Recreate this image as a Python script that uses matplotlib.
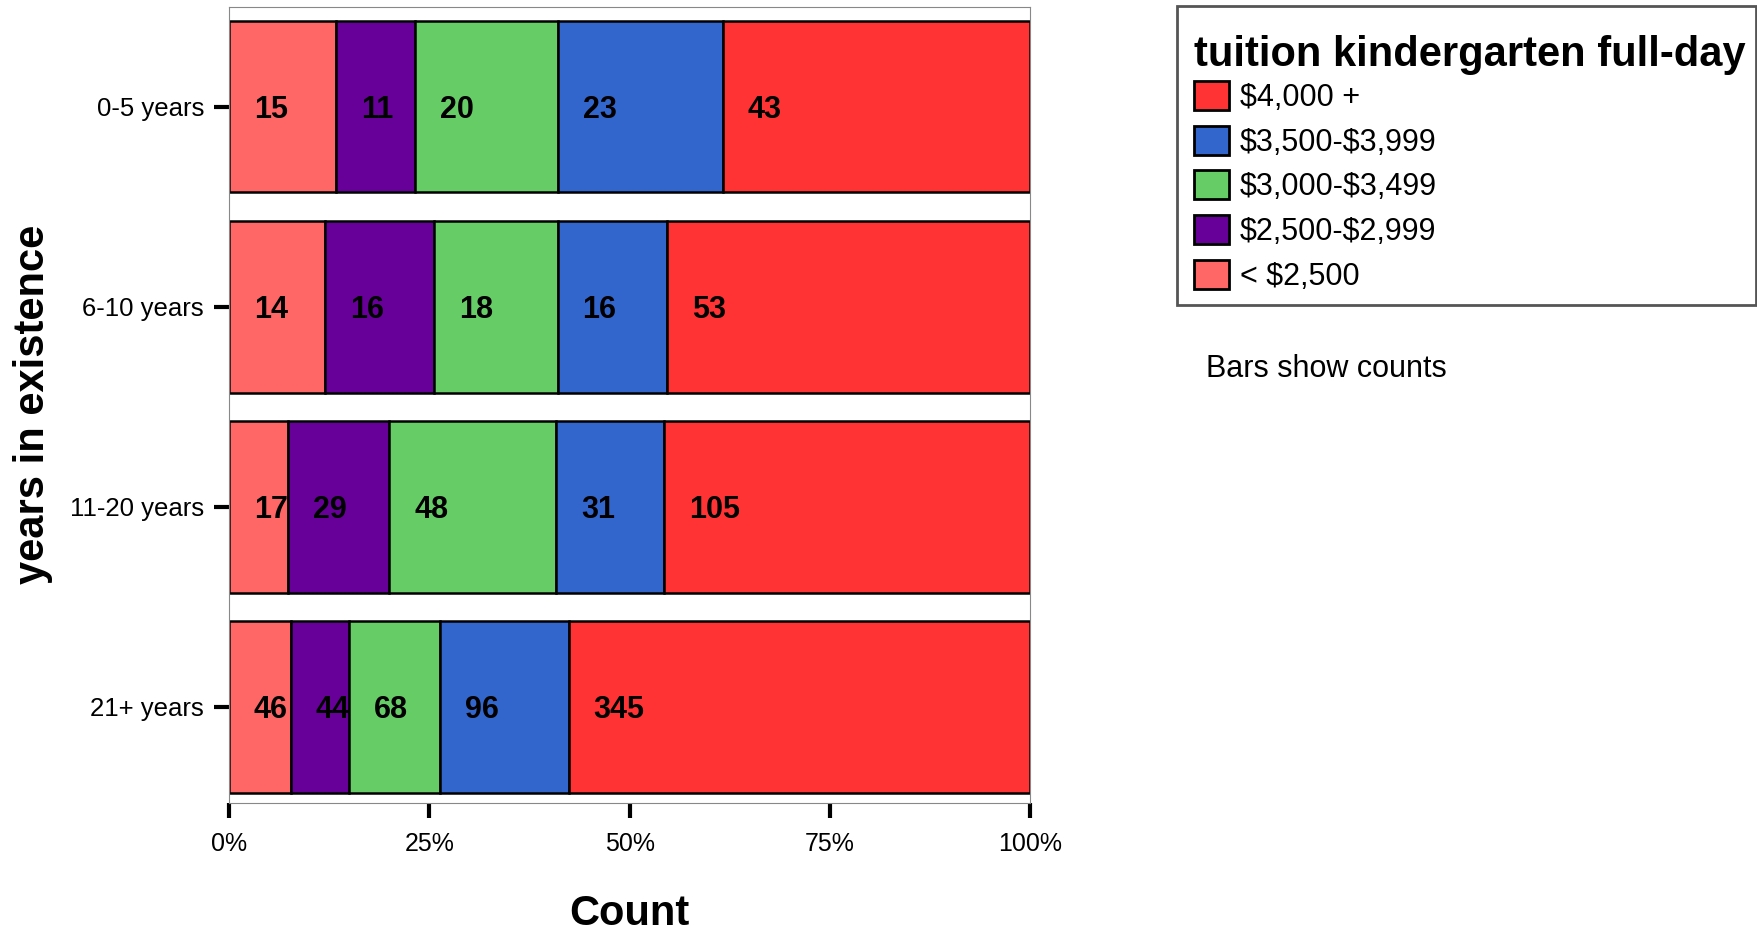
import matplotlib
matplotlib.use('Agg')
import matplotlib.pyplot as plt
from matplotlib.patches import Rectangle
import numpy as np

plt.rcParams['font.family'] = ['Liberation Sans', 'DejaVu Sans']
plt.rcParams['text.parse_math'] = False

groups = ['0-5 years', '6-10 years', '11-20 years', '21+ years']
tuition = ['< $2,500', '$2,500-$2,999', '$3,000-$3,499', '$3,500-$3,999', '$4,000 +']
counts = np.array([
    [15, 11, 20, 23, 43],
    [14, 16, 18, 16, 53],
    [17, 29, 48, 31, 105],
    [46, 44, 68, 96, 345],
])
colors = ['#ff6666', '#660099', '#66cc66', '#3366cc', '#ff3333']

fig = plt.figure(figsize=(17.58, 9.32), dpi=100)
ax = fig.add_axes([0.1303, 0.1384, 0.4556, 0.8544])

shares = counts / counts.sum(axis=1, keepdims=True) * 100
ypos = np.arange(len(groups))
left = np.zeros(len(groups))
handles = []
for j, name in enumerate(tuition):
    h = ax.barh(ypos, shares[:, j], left=left, height=0.857, color=colors[j],
                edgecolor='black', linewidth=1.8, label=name)
    handles.append(h)
    for i in range(len(groups)):
        ax.text(left[i] + 3.1, ypos[i] + 0.015, str(counts[i, j]), ha='left', va='center',
                fontsize=22, fontweight='bold')
    left += shares[:, j]

ax.set_xlim(0, 100)
ax.set_ylim(3.48, -0.50)
ax.set_yticks(ypos)
ax.set_yticklabels(groups, fontsize=18.5)
ax.set_xticks([0, 25, 50, 75, 100])
ax.set_xticklabels(['0%', '25%', '50%', '75%', '100%'], fontsize=18)
ax.tick_params(axis='both', direction='out', length=11, width=3)
ax.tick_params(axis='x', pad=10)
ax.tick_params(axis='y', pad=7)
for s in ax.spines.values():
    s.set_color('#888888')
    s.set_linewidth(0.8)

ax.set_xlabel('Count', fontsize=30, fontweight='bold', labelpad=27)
ax.set_ylabel('years in existence', fontsize=30, fontweight='bold', labelpad=12)

leg = fig.legend(handles[::-1], tuition[::-1], loc='upper left',
                 bbox_to_anchor=(0.6792, 0.962), fontsize=22,
                 title='tuition kindergarten full-day', alignment='left',
                 title_fontproperties={'size': 30, 'weight': 'bold'},
                 handlelength=1.15, handleheight=1.08, handletextpad=0.35,
                 labelspacing=0.42, borderpad=0, borderaxespad=0,
                 frameon=False)
leg._legend_box.sep = 4
for p in leg.get_patches():
    p.set_linewidth(2)

fig.patches.append(Rectangle((1177 / 1758, 1 - 305 / 932), 579 / 1758, 299 / 932,
                             transform=fig.transFigure, fill=False,
                             edgecolor='#555555', linewidth=2))

fig.text(0.686, 0.604, 'Bars show counts', fontsize=22, va='center', ha='left')

fig.savefig('out.png', dpi=100)
